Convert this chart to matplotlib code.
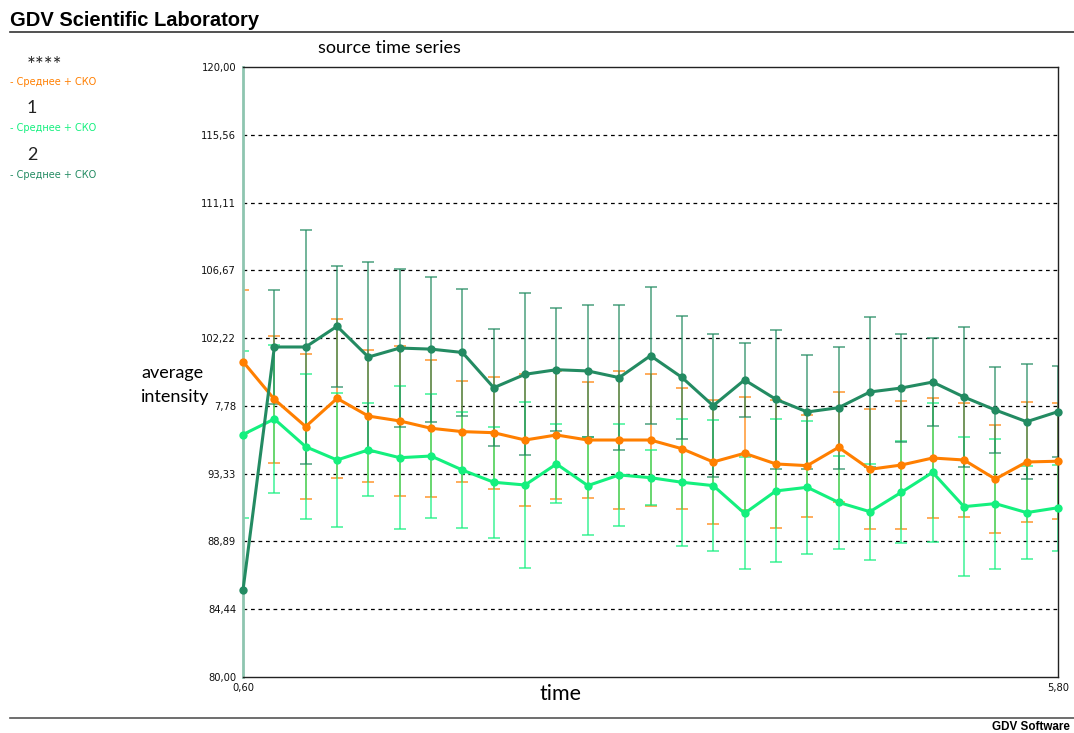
import matplotlib
matplotlib.use("Agg")
import matplotlib.pyplot as plt

# time points of the recording
time = [0.6, 0.8, 1.0, 1.2, 1.4, 1.6, 1.8, 2.0, 2.2, 2.4, 2.6, 2.8, 3.0, 3.2,
        3.4, 3.6, 3.8, 4.0, 4.2, 4.4, 4.6, 4.8, 5.0, 5.2, 5.4, 5.6, 5.8]

# series "****" (orange): mean and standard deviation
mean_stars = [100.68, 98.21, 96.42, 98.27, 97.11, 96.79, 96.31, 96.09, 96.02, 95.54,
              95.87, 95.54, 95.54, 95.54, 94.97, 94.10, 94.67, 93.97, 93.86, 95.06,
              93.62, 93.90, 94.36, 94.23, 92.98, 94.10, 94.15]
sd_stars = [4.70, 4.15, 4.76, 5.19, 4.33, 4.90, 4.48, 3.32, 3.67, 4.33,
            4.20, 3.78, 4.53, 4.33, 3.96, 4.06, 3.71, 4.22, 3.35, 3.61,
            3.93, 4.22, 3.96, 3.72, 3.54, 3.96, 3.80]

# series "1" (light green)
mean_one = [95.90, 96.92, 95.10, 94.23, 94.89, 94.38, 94.49, 93.57, 92.77, 92.59,
            93.97, 92.55, 93.25, 93.07, 92.77, 92.55, 90.73, 92.20, 92.44, 91.45,
            90.84, 92.11, 93.42, 91.17, 91.37, 90.78, 91.10]
sd_one = [5.50, 4.87, 4.75, 4.42, 3.05, 4.69, 4.07, 3.80, 3.63, 5.43,
          2.59, 3.22, 3.33, 1.82, 4.15, 4.27, 3.67, 4.69, 4.35, 3.03,
          3.15, 3.35, 4.54, 4.54, 4.26, 3.04, 2.82]

# series "2" (dark green)
mean_two = [85.70, 101.64, 101.64, 103.00, 100.98, 101.57, 101.50, 101.28, 98.97, 99.85,
            100.15, 100.07, 99.63, 101.07, 99.65, 97.79, 99.48, 98.21, 97.38, 97.66,
            98.69, 98.95, 99.34, 98.36, 97.51, 96.74, 97.40]
sd_two = [38.00, 3.74, 7.67, 3.97, 6.21, 5.18, 4.75, 4.16, 3.85, 5.31,
          4.02, 4.32, 4.76, 4.48, 4.04, 4.68, 2.44, 4.54, 3.73, 4.00,
          4.90, 3.52, 2.91, 4.61, 2.84, 3.76, 3.00]

series_names = ["****", "1", "2"]
series_colors = ["#ff7f00", "#14f07e", "#238b62"]
legend_label = "- Среднее + СКО"

y_ticks = [80.00, 84.44, 88.89, 93.33, 97.78, 102.22, 106.67, 111.11, 115.56, 120.00]
y_tick_labels = ["80,00", "84,44", "88,89", "93,33", "7,78", "102,22",
                 "106,67", "111,11", "115,56", "120,00"]
x_ticks = [0.6, 5.8]
x_tick_labels = ["0,60", "5,80"]

W, H = 1074, 733
fig = plt.figure(figsize=(W / 100, H / 100), dpi=100)
fig.patch.set_facecolor("white")


def fx(px):
    return px / W


def fy(py):
    return 1 - py / H


ax = fig.add_axes([fx(243), fy(677), fx(1058) - fx(243), fy(67) - fy(677)])
ax.set_xlim(0.6, 5.8)
ax.set_ylim(80, 120)

# dashed horizontal grid at the inner ticks
for v in y_ticks[1:-1]:
    ax.axhline(v, color="black", lw=0.9, ls=(0, (3, 3)), zorder=1)

data = [(mean_stars, sd_stars), (mean_one, sd_one), (mean_two, sd_two)]

# error bars first, so the mean lines sit on top
for (m, s), c in zip(data, series_colors):
    ax.errorbar(time, m, yerr=s, fmt="none", ecolor=c, elinewidth=1.2,
                capsize=4, capthick=1.2, alpha=0.75, zorder=2, clip_on=True)

for z, ((m, s), c) in enumerate(zip(data, series_colors)):
    ax.plot(time, m, color=c, lw=2.2, marker="o", markersize=6,
            markeredgewidth=0, zorder=4 + z, clip_on=False)

for side in ["top", "right", "bottom"]:
    ax.spines[side].set_color("#222222")
    ax.spines[side].set_linewidth(1.0)
ax.spines["left"].set_color("#8ec5b0")
ax.spines["left"].set_linewidth(2.0)

ax.set_yticks(y_ticks)
ax.set_yticklabels(y_tick_labels)
ax.set_xticks(x_ticks)
ax.set_xticklabels(x_tick_labels)
ax.tick_params(axis="y", length=0, pad=5, labelsize=7.2, labelcolor="#111111")
ax.tick_params(axis="x", length=0, pad=4, labelsize=7.2, labelcolor="#111111")

# titles and axis captions
fig.text(fx(10), fy(20), "GDV Scientific Laboratory", fontsize=14.5, fontweight="bold",
         family="Liberation Sans", va="center", ha="left")
fig.add_artist(plt.Line2D([fx(10), fx(1074)], [fy(32), fy(32)], color="#333333", lw=1.2))
fig.add_artist(plt.Line2D([fx(10), fx(1074)], [fy(718), fy(718)], color="#555555", lw=1.2))
fig.text(fx(1070), fy(727), "GDV Software", fontsize=8.4, fontweight="bold",
         family="Liberation Sans", va="center", ha="right")

fig.text(fx(318), fy(48), "source time series", fontsize=13, family="Lato",
         va="center", ha="left")
fig.text(fx(141), fy(373), "average", fontsize=13, family="Lato", va="center", ha="left")
fig.text(fx(141), fy(397), "intensity", fontsize=13, family="Lato", va="center", ha="left")
fig.text(fx(561), fy(694), "time", fontsize=15.5, family="Lato", va="center", ha="center")

# legend block on the left
legend_y = [(66, 82), (108, 128), (155, 175)]
for name, c, (yn, yl) in zip(series_names, series_colors, legend_y):
    fig.text(fx(27), fy(yn), name, fontsize=13 if name != "****" else 15,
             family="Lato", color="#222222", va="center", ha="left")
    fig.text(fx(10), fy(yl), legend_label, fontsize=7, family="DejaVu Sans",
             color=c, va="center", ha="left")

fig.savefig("out.png", dpi=100, facecolor="white")
